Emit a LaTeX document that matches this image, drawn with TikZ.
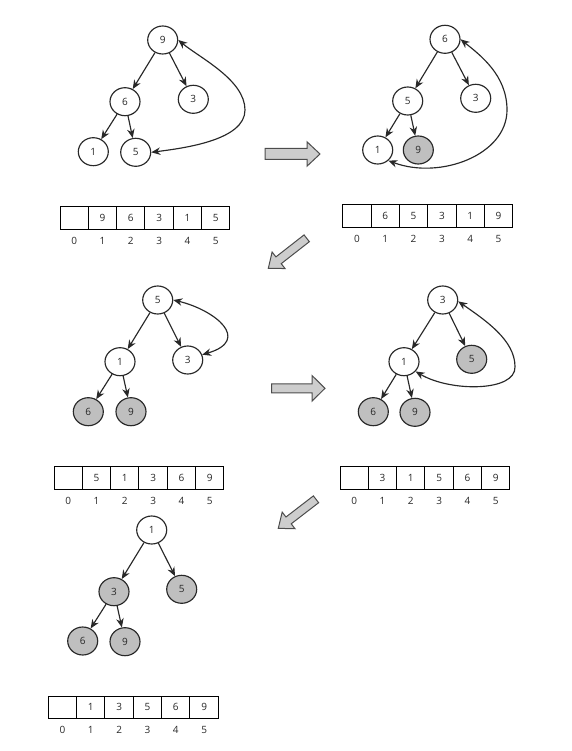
\documentclass[tikz,border=0pt]{standalone}
\usepackage{fontspec}
\setmainfont{Open Sans}
\usetikzlibrary{positioning, arrows.meta, shapes.geometric, calc}

\definecolor{heapgray}{RGB}{191,191,191}
\definecolor{arrowgray}{RGB}{205,205,205}
\definecolor{inkgray}{RGB}{40,40,40}

% 数组: 前缀, 左端x, 中心y, 五个值
\newcommand{\heaparray}[4]{%
	\node[cell] (#1-0) at ({#2+\cellw/2},#3) {};
	\node[idx] (#1-i0) at ([yshift=-11]#1-0.south) {0};
	\foreach \v [count=\i] in {#4} {
		\node[cell] (#1-\i) at ({#2+\cellw*\i+\cellw/2},#3) {\v};
		\node[idx] (#1-i\i) at ([yshift=-11]#1-\i.south) {\i};
	}
}

\begin{document}
\begin{tikzpicture}[x=1pt,y=1pt]
	
	% 定义样式
	\tikzset{
		hnode/.style = {
			ellipse, draw=inkgray, fill=white, line width=1.15pt,
			minimum width=30pt, minimum height=28pt, inner sep=0pt,
			text=inkgray, font=\fontsize{10}{12}\selectfont
		},
		done/.style = {hnode, fill=heapgray},
		edge/.style = {draw=inkgray, line width=1.15pt,
			-{Stealth[length=9pt,width=7.5pt]}},
		swaparrow/.style = {draw=inkgray, line width=1.15pt,
			{Stealth[length=9pt,width=7.5pt]}-{Stealth[length=9pt,width=7.5pt]}},
		cell/.style = {
			rectangle, draw=black, line width=1pt, fill=white,
			minimum width=\cellw pt, minimum height=22.6pt, inner sep=0pt,
			text=inkgray, font=\fontsize{10}{12}\selectfont
		},
		idx/.style = {inner sep=0pt, text=inkgray, font=\fontsize{10}{12}\selectfont},
		blockarr/.style = {draw=black!70, fill=arrowgray, line width=1pt, line join=miter},
		pics/bigarrow/.style n args={3}{code={
			\draw[blockarr] (0,-#2) -- ({#1-13},-#2) -- ({#1-13},-#3) -- (#1,0)
			-- ({#1-13},#3) -- ({#1-13},#2) -- (0,#2) -- cycle;
		}}
	}
	
	% 参数设置
	\def \cellw {28.33}
	
	\useasboundingbox (0,0) rectangle (571,-751);
	
	% 第一步
	\node[hnode] (a9) at (162.7,-40) {9};
	\node[hnode] (a6) at (125,-101.7) {6};
	\node[hnode] (a3) at (193.3,-99.3) {3};
	\node[hnode] (a1) at (93.3,-151.7) {1};
	\node[hnode] (a5) at (135.7,-152.3) {5};
	\draw[swaparrow] (a5.east) .. controls (185,-148) and (245,-140) .. (245,-110)
	.. controls (245,-80) and (200,-58) .. (a9.east);
	\heaparray{A}{60}{-218}{9,6,3,1,5}
	
	% 第二步
	\node[hnode] (b6) at (445,-39.3) {6};
	\node[hnode] (b5) at (407.7,-101) {5};
	\node[hnode] (b3) at (475.7,-98.3) {3};
	\node[hnode] (b1) at (377.7,-150) {1};
	\node[done] (b9) at (418.3,-150) {9};
	\draw[swaparrow] (b1.-45) .. controls (440,-180) and (507,-155) .. (507,-110)
	.. controls (507,-75) and (480,-55) .. (b6.east);
	\heaparray{B}{342.7}{-215.8}{6,5,3,1,9}
	
	% 第三步
	\node[hnode] (c5) at (157.7,-300) {5};
	\node[hnode] (c1) at (120,-361.7) {1};
	\node[hnode] (c3) at (187.7,-360) {3};
	\node[done] (c6) at (88.3,-411.7) {6};
	\node[done] (c9) at (131,-411.7) {9};
	\draw[swaparrow] (c5.east) .. controls (215,-310) and (252,-340) .. (c3.20);
	\heaparray{C}{54}{-478}{5,1,3,6,9}
	
	% 第四步
	\node[hnode] (d3) at (442.7,-300) {3};
	\node[hnode] (d1) at (404,-361.7) {1};
	\node[done] (d5) at (471.7,-359.3) {5};
	\node[done] (d6) at (373.3,-411.7) {6};
	\node[done] (d9) at (415,-412.3) {9};
	\draw[swaparrow] (d1.-40) .. controls (450,-392) and (516,-392) .. (515,-366.7)
	.. controls (515,-340) and (485,-320) .. (d3.-5);
	\heaparray{D}{340}{-478}{3,1,5,6,9}
	
	% 第五步
	\node[hnode] (e1) at (151.7,-530) {1};
	\node[done] (e3) at (114,-591.7) {3};
	\node[done] (e5) at (181.7,-589.3) {5};
	\node[done] (e6) at (82.7,-641) {6};
	\node[done] (e9) at (125,-641.7) {9};
	\heaparray{E}{48.3}{-707.3}{1,3,5,6,9}
	
	% 树的边
	\foreach \p/\c in {a9/a6, a9/a3, a6/a1, a6/a5,
		b6/b5, b6/b3, b5/b1, b5/b9,
		c5/c1, c5/c3, c1/c6, c1/c9,
		d3/d1, d3/d5, d1/d6, d1/d9,
		e1/e3, e1/e5, e3/e6, e3/e9}
	\draw[edge] (\p) -- (\c);
	
	% 灰色大箭头
	\pic at (265,-154) {bigarrow={55}{5.5}{12.2}};
	\pic[rotate=218] at (306.7,-238.3) {bigarrow={48.7}{4.3}{10.5}};
	\pic at (271.7,-388.3) {bigarrow={53.3}{4.5}{12.8}};
	\pic[rotate=217.6] at (316,-499.3) {bigarrow={47.6}{4.3}{10.5}};
	
\end{tikzpicture}
\end{document}
